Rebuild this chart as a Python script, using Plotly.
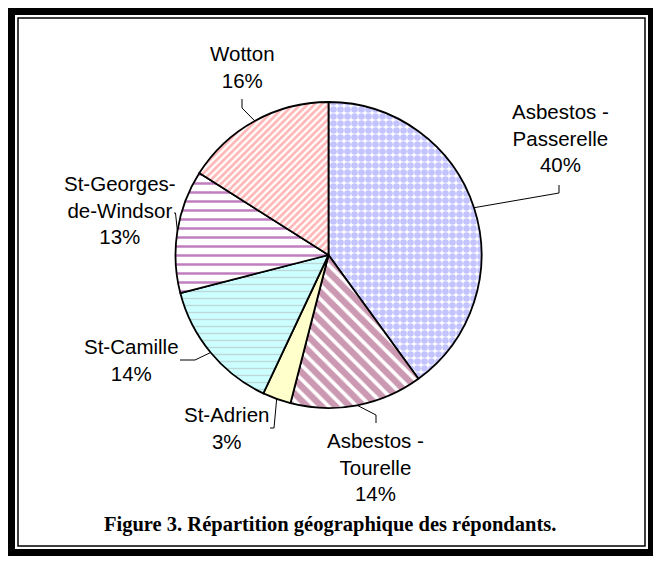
import math
import plotly.graph_objects as go

W, H = 661, 575     # screenshot size
OFF = 8             # browser default body margin shifts the figure by 8px

# ---- data ----
categories = ["Asbestos -<br>Passerelle", "Asbestos -<br>Tourelle", "St-Adrien",
              "St-Camille", "St-Georges-<br>de-Windsor", "Wotton"]
values = [40, 14, 3, 14, 13, 16]
caption = "Figure 3. Répartition géographique des répondants."

# ---- styles ----
bg_colors = ["#FFFFFF", "#FFFFFF", "#FFFFCC", "#CCFFFF", "#FFFFFF", "#FFFFFF"]
fg_colors = ["#8888FF", "#993366", "#FFFFCC", "#B0B0B0", "#800080", "#FF7070"]
shapes_pat = [".", "\\", "", "-", "-", "/"]
pat_size = [7, 10, 8, 7, 9, 5]
pat_solid = [0.7, 0.65, 0.3, 0.2, 0.28, 0.55]

# label placement (screen-pixel centre of each text block) and leader elbows
label_xy = [(560, 138), (375, 467), (226, 428), (131, 360), (120, 210), (242, 67)]
leader_pts = [[(559, 193), (559, 185)], [(376, 415), (376, 423)],
              [(274, 428), (270, 428)], [(195, 360), (180, 360)],
              [(175.5, 213), (174, 213)], [(242, 108), (242, 99)]]

cx, cy, R = 328.5, 255, 153

FW, FH = W - OFF, H - OFF


def px(x):
    return (x - OFF) / FW


def py(y):
    return 1 - (y - OFF) / FH


fig = go.Figure(go.Pie(
    labels=categories, values=values, sort=False, direction="clockwise",
    rotation=0, textinfo="none", hoverinfo="label+percent", showlegend=False,
    domain=dict(x=[px(cx - R), px(cx + R)], y=[py(cy + R), py(cy - R)]),
    marker=dict(
        colors=bg_colors,
        line=dict(color="black", width=1.8),
        pattern=dict(shape=shapes_pat, fgcolor=fg_colors, bgcolor=bg_colors,
                     size=pat_size, solidity=pat_solid, fillmode="overlay"),
    ),
))

shapes = [
    dict(type="rect", xref="paper", yref="paper", x0=px(8), x1=px(655), y0=py(556), y1=py(8),
         fillcolor="black", line=dict(width=0), layer="below"),
    dict(type="rect", xref="paper", yref="paper", x0=px(15), x1=px(648), y0=py(549), y1=py(15),
         fillcolor="white", line=dict(width=0), layer="below"),
    dict(type="rect", xref="paper", yref="paper", x0=px(18), x1=px(645), y0=py(546), y1=py(18),
         fillcolor="rgba(0,0,0,0)", line=dict(color="black", width=1.5), layer="below"),
]

annotations = []
total = sum(values)
cum = 0
for i, v in enumerate(values):
    mid = (cum + v / 2) / total * 2 * math.pi
    cum += v
    ex, ey = cx + R * math.sin(mid), cy - R * math.cos(mid)
    pts = [(ex, ey)] + leader_pts[i]
    path = "M " + " L ".join(f"{px(x)},{py(y)}" for x, y in pts)
    shapes.append(dict(type="path", xref="paper", yref="paper", path=path,
                       line=dict(color="black", width=1), layer="above"))
    pct = round(v / total * 100)
    lx, ly = label_xy[i]
    annotations.append(dict(
        text=f"{categories[i]}<br>{pct}%", x=px(lx), y=py(ly), xref="paper", yref="paper",
        xanchor="center", yanchor="middle", align="center", showarrow=False,
        font=dict(family="Liberation Sans, Arial", size=20.5, color="black")))

annotations.append(dict(
    text=f"<b>{caption}</b>", x=px(330), y=py(524), xref="paper", yref="paper",
    xanchor="center", yanchor="middle", showarrow=False,
    font=dict(family="Liberation Serif, Times New Roman", size=20.5, color="black")))

fig.update_layout(
    width=FW, height=FH, margin=dict(l=0, r=0, t=0, b=0),
    paper_bgcolor="white", plot_bgcolor="white",
    shapes=shapes, annotations=annotations,
)

fig.write_html("out.html")
